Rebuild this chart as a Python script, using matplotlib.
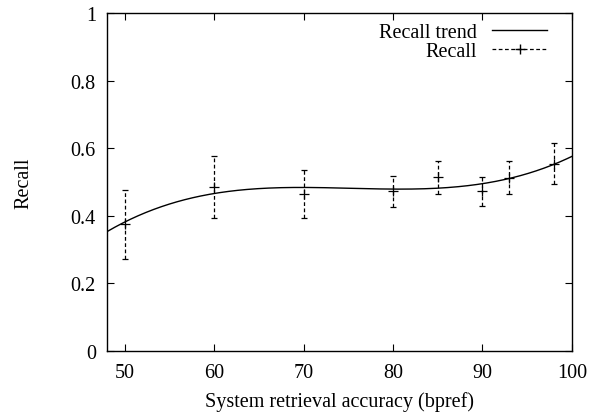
import numpy as np
import matplotlib.pyplot as plt
from matplotlib.lines import Line2D

plt.rcParams['font.family'] = ['Liberation Serif', 'DejaVu Serif']

# data
accuracy = [50, 60, 70, 80, 85, 90, 93, 98]
recall = [0.376, 0.485, 0.465, 0.474, 0.515, 0.474, 0.512, 0.553]
recall_hi = [0.476, 0.578, 0.536, 0.519, 0.563, 0.516, 0.563, 0.616]
recall_lo = [0.272, 0.392, 0.393, 0.427, 0.464, 0.430, 0.464, 0.494]

# trend curve readings
trend_x = [48, 60, 70, 80, 85, 90, 93, 98, 100]
trend_y = [0.353, 0.466, 0.484, 0.479, 0.481, 0.495, 0.511, 0.553, 0.575]

fs = 14.5

fig = plt.figure(figsize=(6.02, 4.14), dpi=100)
ax = fig.add_axes([0.1777, 0.1498, 0.7723, 0.8164])

# smooth cubic trend fitted to the readings
coef = np.polyfit(trend_x, trend_y, 3)
xs = np.linspace(48, 100, 300)
ax.plot(xs, np.polyval(coef, xs), color='black', lw=1.0)

err = [np.array(recall) - np.array(recall_lo), np.array(recall_hi) - np.array(recall)]
eb = ax.errorbar(accuracy, recall, yerr=err, fmt='none', ecolor='black',
                 elinewidth=0.9, capsize=2.0, capthick=0.9)
eb[2][0].set_linestyle((0, (3, 2)))
ax.plot(accuracy, recall, ls='none', marker='+', color='black', ms=7, mew=0.9)

ax.set_xlim(48, 100)
ax.set_ylim(0, 1)
ax.set_xticks([50, 60, 70, 80, 90, 100])
ax.set_yticks([0, 0.2, 0.4, 0.6, 0.8, 1])
ax.set_yticklabels(['0', '0.2', '0.4', '0.6', '0.8', '1'])
ax.tick_params(direction='in', top=True, right=True, length=5, width=0.8,
               labelsize=fs)
ax.tick_params(axis='x', pad=9)
ax.tick_params(axis='y', pad=8)
for s in ax.spines.values():
    s.set_linewidth(1.0)

ax.set_xlabel('System retrieval accuracy (bpref)', fontsize=fs, va='center')
ax.set_ylabel('Recall', fontsize=fs, va='center')
ax.xaxis.set_label_coords(0.5, -0.148)
ax.yaxis.set_label_coords(-0.178, 0.5)

handles = [Line2D([], [], color='black', lw=1.0),
           Line2D([], [], color='black', lw=0.9, ls=(0, (3, 2)), marker='+', ms=7)]
ax.legend(handles, ['Recall trend', 'Recall'], loc='upper right', frameon=False,
          markerfirst=False, fontsize=fs, handlelength=2.7,
          bbox_to_anchor=(0.972, 1.006), borderaxespad=0.2,
          labelspacing=0.0, handletextpad=0.75)

fig.savefig('out.png', dpi=100)
